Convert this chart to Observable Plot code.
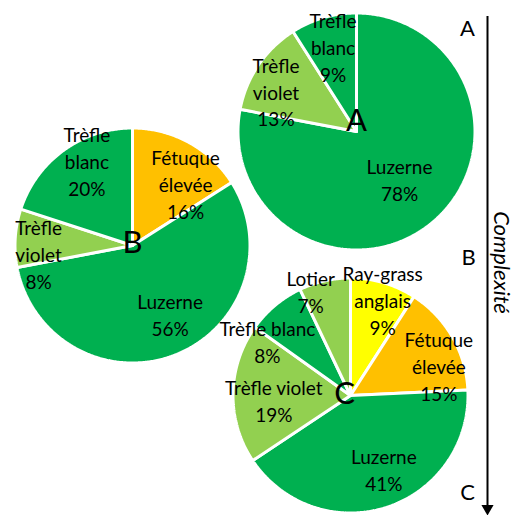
<!DOCTYPE html>
<html><head><meta charset="utf-8">
<script src="https://cdn.jsdelivr.net/npm/d3@7"></script>
<script src="https://cdn.jsdelivr.net/npm/@observablehq/plot@0.6"></script>
<style>body{margin:0;background:#fff} #chart{width:517px;height:515px}</style>
</head><body><div id="chart"></div>
<script>
// ---- data ----
const pieNames = ["A", "B", "C"];
const pieA_species = ["Luzerne", "Trèfle violet", "Trèfle blanc"];
const pieA_values = [78, 13, 9];
const pieB_species = ["Fétuque élevée", "Luzerne", "Trèfle violet", "Trèfle blanc"];
const pieB_values = [16, 56, 8, 20];
const pieC_species = ["Ray-grass anglais", "Fétuque élevée", "Luzerne", "Trèfle violet", "Trèfle blanc", "Lotier"];
const pieC_values = [9, 15, 41, 19, 8, 7];
const complexityLevels = ["A", "B", "C"];
const axisTitle = "Complexité";

// ---- styles / layout ----
const speciesColor = {
  "Luzerne": "#00B050", "Trèfle blanc": "#00B050",
  "Trèfle violet": "#92D050", "Lotier": "#92D050",
  "Fétuque élevée": "#FFC000", "Ray-grass anglais": "#FFFF00"
};
const layout = [
  {cx: 356, cy: 131, r: 117, ldx: 0, ldy: -10,
   labels: [{k: .55, dx: 2, dy: -2, wrap: true}, {k: .77, dx: -6, dy: 10, wrap: true}, {k: .75, dx: 1, dy: -1, wrap: true}]},
  {cx: 132, cy: 245, r: 116, ldx: 0, ldy: -2,
   labels: [{k: .7, dx: 14, dy: 9, wrap: true}, {k: .67, dx: 9, dy: -4, wrap: true}, {k: .82, dx: 1, dy: 14, wrap: true}, {k: .83, dx: 11, dy: -7, wrap: true}]},
  {cx: 350, cy: 395, r: 116, ldx: -6, ldy: -1,
   labels: [{k: .86, dx: 4, dy: 0, wrap: true}, {k: .8, dx: 8, dy: 16, wrap: true}, {k: .7, dx: 8, dy: -4, wrap: true}, {k: .67, dx: 1, dy: 6, wrap: false}, {k: .86, dx: -19, dy: 22, wrap: false}, {k: .97, dx: -15, dy: 5, wrap: false}]}
];
const levelPos = [{x: 467, y: 28}, {x: 468, y: 257}, {x: 467, y: 492}];
const arrowX = 487, arrowTop = 16, arrowBottom = 505;
const strokeW = 3;

const pies = [
  {name: pieNames[0], species: pieA_species, values: pieA_values},
  {name: pieNames[1], species: pieB_species, values: pieB_values},
  {name: pieNames[2], species: pieC_species, values: pieC_values}
];

const sliceMarks = [];
const labels = [];
const letters = [];
pies.forEach((p, i) => {
  const L = layout[i];
  const R = L.r + strokeW / 2;
  const arcs = d3.pie().sort(null).startAngle(0).endAngle(2 * Math.PI)(p.values);
  arcs.forEach((a, j) => {
    const sp = p.species[j];
    const pts = [[L.cx, L.cy]];
    const n = Math.max(2, Math.ceil((a.endAngle - a.startAngle) / 0.01));
    for (let t = 0; t <= n; t++) {
      const ang = a.startAngle + (a.endAngle - a.startAngle) * t / n;
      pts.push([L.cx + R * Math.sin(ang), L.cy - R * Math.cos(ang)]);
    }
    pts.push([L.cx, L.cy]);
    sliceMarks.push(Plot.line(pts, {x: d => d[0], y: d => d[1], fill: speciesColor[sp], stroke: "white", strokeWidth: strokeW, strokeLinejoin: "miter", curve: "linear"}));
    const mid = (a.startAngle + a.endAngle) / 2;
    const lb = L.labels[j];
    const name = lb.wrap ? sp.replace(" ", "\n") : sp;
    labels.push({
      x: L.cx + lb.k * L.r * Math.sin(mid) + lb.dx,
      y: L.cy - lb.k * L.r * Math.cos(mid) + lb.dy,
      text: name + "\n" + p.values[j] + "%"
    });
  });
  letters.push({x: L.cx + L.ldx, y: L.cy + L.ldy, text: p.name});
});

const levels = complexityLevels.map((c, i) => ({...levelPos[i], text: c}));

const chart = Plot.plot({
  width: 517, height: 515,
  margin: 0,
  x: {domain: [0, 517], range: [0, 517], axis: null},
  y: {domain: [0, 515], range: [0, 515], axis: null},
  marks: [
    ...sliceMarks,
    Plot.text(labels, {x: "x", y: "y", text: "text", fontSize: 19, lineHeight: 1.42, fontFamily: "Lato", fill: "black"}),
    Plot.text(letters, {x: "x", y: "y", text: "text", fontSize: 31, fontFamily: "Lato", fill: "black"}),
    Plot.ruleX([arrowX], {y1: arrowTop, y2: arrowBottom, stroke: "black", strokeWidth: 2}),
    Plot.dot([{x: arrowX, y: arrowBottom + 3}], {x: "x", y: "y", symbol: "triangle2", r: 5.8, rotate: 180, fill: "black", stroke: "none"}),
    Plot.text(levels, {x: "x", y: "y", text: "text", fontSize: 22, fontFamily: "Lato", fill: "black"}),
    Plot.text([{x: 501, y: 262, text: axisTitle}], {x: "x", y: "y", text: "text", rotate: 90, fontSize: 22, fontStyle: "italic", fontFamily: "Lato", fill: "black"})
  ]
});
document.getElementById("chart").appendChild(chart);
</script>
</body></html>
